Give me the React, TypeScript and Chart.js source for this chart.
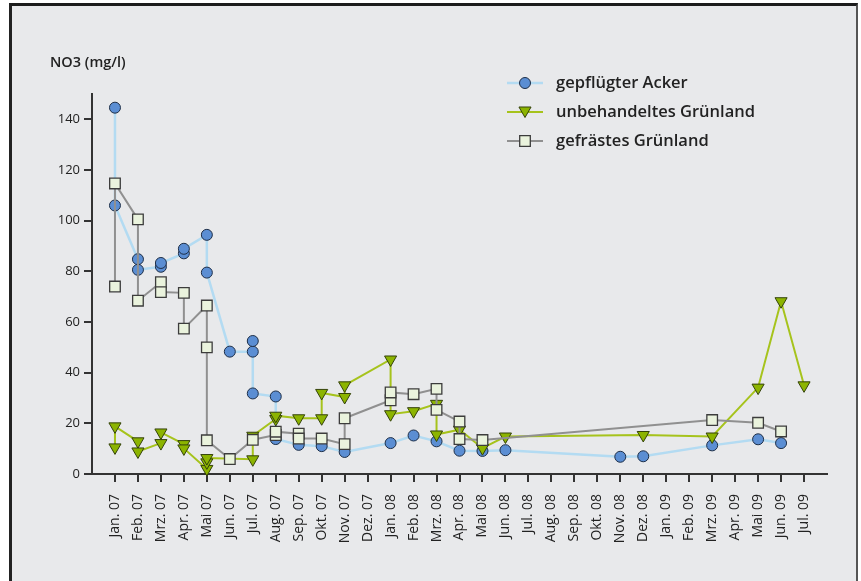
import React, { useEffect, useRef } from 'react';
import { Chart, registerables } from 'chart.js';

Chart.register(...registerables);

const MONTHS = [
  'Jan. 07', 'Feb. 07', 'Mrz. 07', 'Apr. 07', 'Mai 07', 'Jun. 07', 'Jul. 07', 'Aug. 07',
  'Sep. 07', 'Okt. 07', 'Nov. 07', 'Dez. 07', 'Jan. 08', 'Feb. 08', 'Mrz. 08', 'Apr. 08',
  'Mai 08', 'Jun. 08', 'Jul. 08', 'Aug. 08', 'Sep. 08', 'Okt. 08', 'Nov. 08', 'Dez. 08',
  'Jan. 09', 'Feb. 09', 'Mrz. 09', 'Apr. 09', 'Mai 09', 'Jun. 09', 'Jul. 09',
];

const Y_TICKS = [0, 20, 40, 60, 80, 100, 120, 140];

// gepflügter Acker
const ACKER_MONTH = [0, 0, 1, 1, 2, 2, 3, 3, 4, 4, 5, 6, 6, 6, 7, 7, 8, 9, 10, 12, 13, 14, 15, 16, 17, 22, 23, 26, 28, 29];
const ACKER_VALUE = [144.6, 106, 84.8, 80.6, 81.8, 83.3, 87.1, 88.9, 94.4, 79.5, 48.3, 48.3, 52.5, 31.8, 30.6, 13.8, 11.5, 11.0, 8.7, 12.2, 15.2, 12.9, 9.2, 9.1, 9.4, 6.8, 7.0, 11.3, 13.7, 12.2];

// unbehandeltes Grünland
const GRUEN_MONTH = [0, 0, 1, 1, 2, 2, 3, 3, 4, 4, 4, 6, 6, 7, 7, 8, 9, 9, 10, 10, 12, 12, 13, 14, 14, 15, 16, 17, 23, 26, 28, 29, 30];
const GRUEN_VALUE = [10.5, 18.8, 12.9, 8.9, 12.2, 16.4, 11.8, 10.1, 2.0, 4.6, 6.3, 5.8, 15.1, 21.7, 23.0, 22.0, 22.0, 32.0, 30.4, 35.0, 45.2, 23.6, 24.8, 27.7, 15.6, 17.5, 10.2, 14.8, 15.4, 14.8, 34.1, 68.2, 35.0];

// gefrästes Grünland
const FRAES_MONTH = [0, 0, 1, 1, 2, 2, 3, 3, 4, 4, 4, 5, 6, 7, 7, 8, 8, 9, 10, 10, 12, 12, 13, 14, 14, 15, 15, 16, 26, 28, 29];
const FRAES_VALUE = [74.0, 114.7, 100.5, 68.4, 75.7, 71.8, 71.5, 57.4, 66.5, 50.0, 13.3, 5.9, 13.5, 15.4, 16.7, 15.9, 14.0, 14.0, 11.8, 22.0, 29.1, 32.2, 31.5, 33.6, 25.3, 20.7, 13.8, 13.4, 21.3, 20.2, 16.8];

const SERIES_NAMES = ['gepflügter Acker', 'unbehandeltes Grünland', 'gefrästes Grünland'];
const Y_TITLE = 'NO3 (mg/l)';

const STYLES = [
  { line: '#b3dbf2', lineWidth: 2.5, fill: '#5b8ed3', stroke: '#1d2e47', style: 'circle', radius: 5.5, rot: 0, bw: 1 },
  { line: '#a6c31c', lineWidth: 2, fill: '#8cb400', stroke: '#34420a', style: 'triangle', radius: 7, rot: 180, bw: 1 },
  { line: '#909090', lineWidth: 2, fill: '#eaf3dd', stroke: '#3c3c3c', style: 'rect', radius: 7.5, rot: 0, bw: 1.3 },
];

const FONT = '"Open Sans", "DejaVu Sans", sans-serif';

function toPoints(ms: number[], vs: number[]) {
  return ms.map((m, i) => ({ x: m, y: vs[i] }));
}

function drawMarker(ctx: CanvasRenderingContext2D, s: any, x: number, y: number) {
  ctx.beginPath();
  if (s.style === 'circle') {
    ctx.arc(x, y, s.radius, 0, Math.PI * 2);
  } else if (s.style === 'triangle') {
    const r = s.radius;
    let rad = Math.PI;
    ctx.moveTo(x + Math.sin(rad) * r, y - Math.cos(rad) * r);
    rad += (2 * Math.PI) / 3;
    ctx.lineTo(x + Math.sin(rad) * r, y - Math.cos(rad) * r);
    rad += (2 * Math.PI) / 3;
    ctx.lineTo(x + Math.sin(rad) * r, y - Math.cos(rad) * r);
    ctx.closePath();
  } else {
    const h = s.radius * Math.SQRT1_2;
    ctx.rect(x - h, y - h, 2 * h, 2 * h);
  }
  ctx.fillStyle = s.fill;
  ctx.fill();
  ctx.lineWidth = s.bw;
  ctx.strokeStyle = s.stroke;
  ctx.stroke();
}

const overlayPlugin = {
  id: 'overlay',
  afterDraw(chart: any) {
    const ctx = chart.ctx as CanvasRenderingContext2D;
    ctx.save();
    ctx.fillStyle = '#222';
    ctx.textBaseline = 'middle';
    ctx.textAlign = 'left';
    ctx.font = `600 14.5px ${FONT}`;
    ctx.fillText(Y_TITLE, 50, 63);

    const rows = [83, 112, 141];
    SERIES_NAMES.forEach((name, i) => {
      const s = STYLES[i];
      const y = rows[i];
      ctx.beginPath();
      ctx.moveTo(507, y);
      ctx.lineTo(543, y);
      ctx.strokeStyle = s.line;
      ctx.lineWidth = s.lineWidth;
      ctx.stroke();
      drawMarker(ctx, s, 525, s.style === 'triangle' ? y - 1.5 : y);
      ctx.fillStyle = '#222';
      ctx.font = `600 16.5px ${FONT}`;
      ctx.fillText(name, 556, y);
    });
    ctx.restore();
  },
};

export default function App() {
  const ref = useRef<HTMLCanvasElement | null>(null);

  useEffect(() => {
    document.body.style.margin = '0';
    const canvas = ref.current;
    if (!canvas) return;

    const sets = [
      toPoints(ACKER_MONTH, ACKER_VALUE),
      toPoints(GRUEN_MONTH, GRUEN_VALUE),
      toPoints(FRAES_MONTH, FRAES_VALUE),
    ];

    const datasets = sets.map((data, i) => {
      const s = STYLES[i];
      return {
        label: SERIES_NAMES[i],
        data,
        borderColor: s.line,
        borderWidth: s.lineWidth,
        backgroundColor: s.fill,
        pointBackgroundColor: s.fill,
        pointBorderColor: s.stroke,
        pointBorderWidth: s.bw,
        pointRadius: s.radius,
        pointStyle: s.style,
        pointRotation: s.rot,
        tension: 0,
        fill: false,
        clip: false as any,
        order: 3 - i,
      };
    });

    const chart = new Chart(canvas, {
      type: 'line',
      data: { datasets: datasets as any },
      options: {
        animation: false,
        responsive: false,
        devicePixelRatio: 1,
        layout: { padding: { left: 0, top: 94, right: 34, bottom: 37 } },
        plugins: { legend: { display: false }, tooltip: { enabled: false } },
        scales: {
          x: {
            type: 'linear',
            min: -1,
            max: 31,
            afterBuildTicks: (axis: any) => {
              axis.ticks = MONTHS.map((_, i) => ({ value: i }));
            },
            afterFit: (scale: any) => {
              scale.height = 70;
            },
            ticks: {
              autoSkip: false,
              maxRotation: 90,
              minRotation: 90,
              padding: 12,
              color: '#222',
              font: { family: FONT, size: 14 },
              callback: (v: any) => MONTHS[Math.round(Number(v))] ?? '',
            },
            grid: {
              drawOnChartArea: false,
              drawTicks: true,
              tickLength: 8,
              tickColor: '#333',
              lineWidth: 2,
              color: '#333',
            },
            border: { display: true, color: '#333', width: 2 },
          },
          y: {
            type: 'linear',
            min: 0,
            max: 150,
            afterBuildTicks: (axis: any) => {
              axis.ticks = Y_TICKS.map((v) => ({ value: v }));
            },
            afterFit: (scale: any) => {
              scale.width = 92;
            },
            ticks: {
              padding: 4,
              color: '#222',
              font: { family: FONT, size: 13 },
            },
            grid: {
              drawOnChartArea: false,
              drawTicks: true,
              tickLength: 8,
              tickColor: '#333',
              lineWidth: 2,
              color: '#333',
            },
            border: { display: true, color: '#333', width: 2 },
          },
        },
      },
      plugins: [overlayPlugin],
    });

    return () => chart.destroy();
  }, []);

  return (
    <div style={{ position: 'relative', width: 861, height: 581, overflow: 'hidden', background: '#fff' }}>
      <div
        style={{
          position: 'absolute',
          left: 9,
          top: 3,
          width: 849,
          height: 620,
          boxSizing: 'border-box',
          background: '#e8e9eb',
          borderTop: '3px solid #1c1c1c',
          borderLeft: '3px solid #222',
          borderRight: '2px solid #555',
        }}
      />
      <canvas
        ref={ref}
        width={861}
        height={581}
        style={{ position: 'absolute', left: 0, top: 0, width: 861, height: 581 }}
      />
    </div>
  );
}
